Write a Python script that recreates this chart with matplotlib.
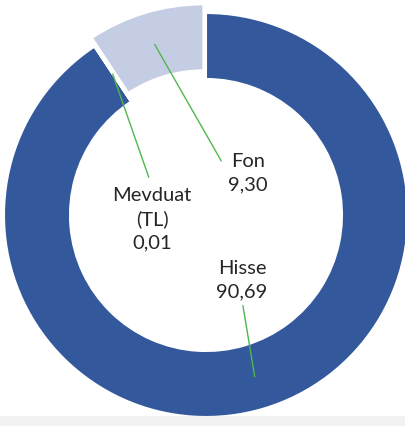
import matplotlib.pyplot as plt
import matplotlib.patches as mpatches
import numpy as np

# Veriler
labels = ['Hisse', 'Mevduat\n(TL)', 'Fon']
values = [90.69, 0.01, 9.30]
value_text = ['90,69', '0,01', '9,30']
colors = ['#34589C', '#34589C', '#C5CDE5']

# Yerlesim (piksel)
W, H = 405, 426
cx, cy = 206, H - 215
radius = 202
ring = 66
explode = [0, 0, 9]

fig = plt.figure(figsize=(W / 100, H / 100), dpi=100)
# alttaki gri bant
fig.patches.append(mpatches.Rectangle((0, 0), 1, 10 / H, transform=fig.transFigure,
                                      facecolor='#F2F2F2', edgecolor='none', zorder=0))
ax = fig.add_axes([0, 0, 1, 1])
ax.patch.set_visible(False)

wedges, _ = ax.pie(values, colors=colors, startangle=90, counterclock=False,
                   center=(cx, cy), radius=radius, explode=explode,
                   wedgeprops=dict(width=ring, edgecolor='white', linewidth=1.5))

ax.set_xlim(0, W)
ax.set_ylim(0, H)
ax.set_aspect('auto')
ax.axis('off')

# Etiket konumlari ve baglanti noktasi
text_pos = [(242, H - 280), (152, H - 219), (248, H - 173)]
relpos = [(0.5, 0.0), (0.5, 1.0), (0.0, 0.5)]
shrink = [2, 5, 6]

for w, lab, val, pos, rp, sh in zip(wedges, labels, value_text, text_pos, relpos, shrink):
    ang = np.deg2rad((w.theta1 + w.theta2) / 2)
    r_mid = radius - ring / 2
    px = w.center[0] + r_mid * np.cos(ang)
    py = w.center[1] + r_mid * np.sin(ang)
    ax.annotate(f'{lab}\n{val}', xy=(px, py), xytext=pos, ha='center', va='center',
                fontsize=14.5, family='Lato', color='#262626', linespacing=1.45,
                arrowprops=dict(arrowstyle='-', color='#4DB84D', lw=1,
                                shrinkA=sh, shrinkB=0, relpos=rp))

fig.savefig('out.png', dpi=100)
